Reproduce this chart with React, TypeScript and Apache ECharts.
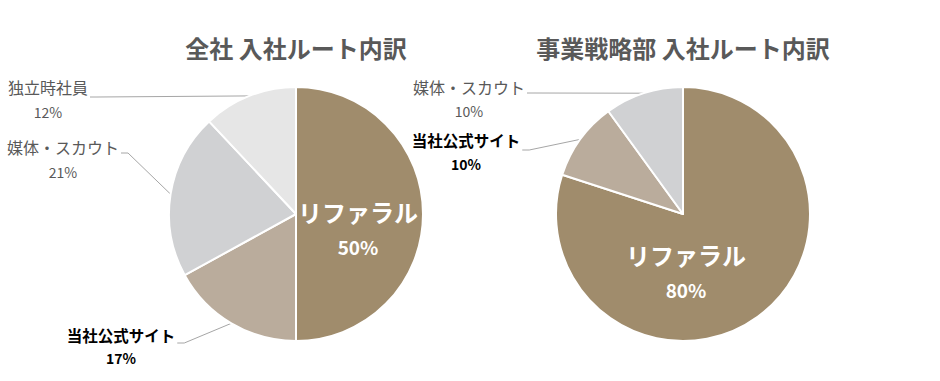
import React, { useEffect, useRef } from 'react';
import * as echarts from 'echarts';

// ---- data ----
const titles = ['全社 入社ルート内訳', '事業戦略部 入社ルート内訳'];
const leftCategories = ['リファラル', '当社公式サイト', '媒体・スカウト', '独立時社員'];
const leftValues = [50, 17, 21, 12];
const rightCategories = ['リファラル', '当社公式サイト', '媒体・スカウト'];
const rightValues = [80, 10, 10];

// ---- styles / layout ----
const FONT = "'Noto Sans CJK JP', 'Noto Sans', sans-serif";
const COLORS: Record<string, string> = {
  'リファラル': '#A08C6C',
  '当社公式サイト': '#BAAC9C',
  '媒体・スカウト': '#D0D1D3',
  '独立時社員': '#E6E6E6',
};
const LABEL_KIND: Record<string, 'inside' | 'gray' | 'bold'> = {
  'リファラル': 'inside',
  '当社公式サイト': 'bold',
  '媒体・スカウト': 'gray',
  '独立時社員': 'gray',
};
const RICH: Record<string, any> = {
  inside: {
    n: { fontFamily: FONT, fontSize: 24, fontWeight: 'bold', color: '#FFFFFF', lineHeight: 35, align: 'center' },
    p: { fontFamily: FONT, fontSize: 19, fontWeight: 'bold', color: '#FFFFFF', lineHeight: 35, align: 'center' },
  },
  gray: {
    n: { fontFamily: FONT, fontSize: 16, color: '#595959', lineHeight: 24.5, align: 'center' },
    p: { fontFamily: FONT, fontSize: 14, color: '#595959', lineHeight: 24.5, align: 'center' },
  },
  bold: {
    n: { fontFamily: FONT, fontSize: 15.5, fontWeight: 'bold', color: '#000000', lineHeight: 23.5, align: 'center' },
    p: { fontFamily: FONT, fontSize: 14, fontWeight: 'bold', color: '#000000', lineHeight: 23.5, align: 'center' },
  },
};
// label block centres and leader-line y (layout only)
const LEFT_LABELS = [
  { x: 358, y: 228.5 },
  { x: 121, y: 346.5, lineY: 343 },
  { x: 63, y: 159.5, lineY: 153 },
  { x: 48, y: 99.5, lineY: 97 },
];
const RIGHT_LABELS = [
  { x: 686, y: 271.5 },
  { x: 466, y: 152, lineY: 150 },
  { x: 469, y: 99, lineY: 93 },
];

function buildData(cats: string[], vals: number[]) {
  return cats.map((c, i) => {
    const kind = LABEL_KIND[c];
    return {
      name: c,
      value: vals[i],
      itemStyle: { color: COLORS[c] },
      label: {
        show: true,
        position: kind === 'inside' ? 'inside' : 'outside',
        formatter: '{n|{b}}\n{p|{c}%}',
        rich: RICH[kind],
      },
      labelLine: { show: kind !== 'inside' },
    };
  });
}

function makeLayout(pos: any[]) {
  return (p: any) => {
    const L = pos[p.dataIndex];
    if (!L) return {};
    const res: any = { x: L.x, y: L.y, align: 'center', verticalAlign: 'middle' };
    if (L.lineY != null && p.labelLinePoints && p.labelLinePoints.length) {
      const w = p.labelRect.width;
      const endX = L.x + w / 2 + 2;
      res.labelLinePoints = [p.labelLinePoints[0], [endX + 7, L.lineY], [endX, L.lineY]];
    }
    return res;
  };
}

function pieSeries(center: number[], data: any[], layout: any[]) {
  return {
    type: 'pie',
    center,
    radius: 127,
    startAngle: 90,
    clockwise: true,
    avoidLabelOverlap: false,
    data,
    itemStyle: { borderColor: '#FFFFFF', borderWidth: 2 },
    label: { show: true, position: 'outside' },
    labelLine: { show: true, length: 6, length2: 6, lineStyle: { color: '#A6A6A6', width: 1 } },
    emphasis: { disabled: true },
    labelLayout: makeLayout(layout),
  };
}

export default function App() {
  const ref = useRef<HTMLDivElement>(null);
  useEffect(() => {
    if (!ref.current) return;
    const chart = echarts.init(ref.current, undefined, { renderer: 'svg' });
    chart.setOption({
      animation: false,
      backgroundColor: '#FFFFFF',
      textStyle: { fontFamily: FONT },
      graphic: [
        {
          type: 'text', x: 296, y: 47,
          style: { text: titles[0], fill: '#595959', font: `bold 24px ${FONT}`, textAlign: 'center', textVerticalAlign: 'middle' },
        },
        {
          type: 'text', x: 683, y: 47,
          style: { text: titles[1], fill: '#595959', font: `bold 24px ${FONT}`, textAlign: 'center', textVerticalAlign: 'middle' },
        },
      ],
      series: [
        pieSeries([296, 214], buildData(leftCategories, leftValues), LEFT_LABELS),
        pieSeries([683, 214], buildData(rightCategories, rightValues), RIGHT_LABELS),
      ],
    });
    return () => chart.dispose();
  }, []);
  return <div ref={ref} style={{ position: 'fixed', left: 0, top: 0, width: 940, height: 381 }} />;
}
